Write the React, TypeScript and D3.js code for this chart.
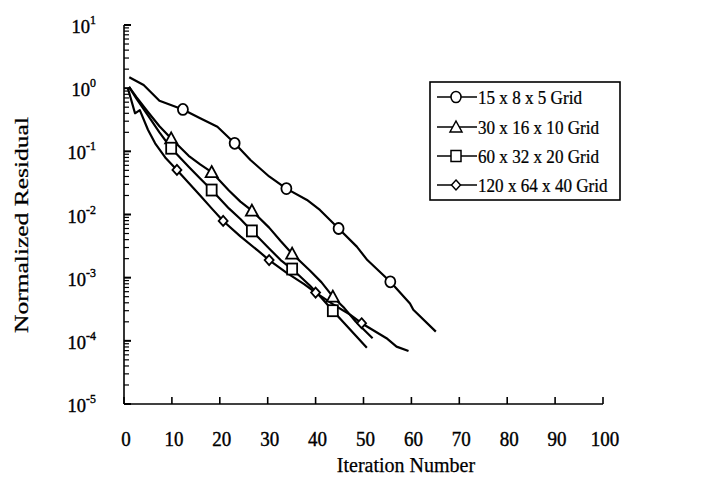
import React, { useEffect, useRef } from 'react';
import * as d3 from 'd3';

// [iteration, normalized residual]
const grid15Line: [number, number][] = [
  [1.1, 1.49], [4.1, 1.12], [7.4, 0.63], [12.3, 0.46], [15.9, 0.333], [19.5, 0.245],
  [23.1, 0.134], [26.4, 0.073], [30.3, 0.04], [33.9, 0.0257], [38.2, 0.017],
  [40.9, 0.0118], [44.8, 0.006], [48.6, 0.0031], [50.8, 0.0019], [55.6, 0.00086],
  [59.7, 0.00039], [60.4, 0.00031], [65.1, 0.00014],
];
const grid15Marks: [number, number][] = [
  [12.3, 0.46], [23.1, 0.134], [33.9, 0.0257], [44.8, 0.006], [55.6, 0.00086],
];

const grid30Line: [number, number][] = [
  [1.05, 1.05], [2.6, 0.72], [5, 0.42], [7.4, 0.25], [9.85, 0.16], [13.5, 0.085],
  [15.9, 0.062], [18.3, 0.047], [21.9, 0.024], [24.3, 0.016], [26.7, 0.0115],
  [30.3, 0.0062], [32.7, 0.0038], [35.1, 0.0024], [38.8, 0.0013], [41.2, 0.00085],
  [43.6, 0.0005], [46, 0.00033], [48.4, 0.0002], [51.9, 0.00011],
];
const grid30Marks: [number, number][] = [
  [9.85, 0.16], [18.3, 0.047], [26.7, 0.0115], [35.1, 0.0024], [43.6, 0.0005],
];

const grid60Line: [number, number][] = [
  [1.05, 1.05], [2.6, 0.68], [5, 0.37], [7.4, 0.2], [9.85, 0.112], [13.5, 0.057],
  [15.9, 0.037], [18.3, 0.0244], [21.9, 0.0125], [24.3, 0.0085], [26.7, 0.0055],
  [30.3, 0.0029], [32.7, 0.0019], [35.1, 0.00137], [38.8, 0.00075], [41.2, 0.00048],
  [43.6, 0.0003], [46, 0.00019], [48.4, 0.00012], [50.7, 0.000078],
];
const grid60Marks: [number, number][] = [
  [9.85, 0.112], [18.3, 0.0244], [26.7, 0.0055], [35.1, 0.00137], [43.6, 0.0003],
];

const grid120Line: [number, number][] = [
  [0.8, 1.0], [2.3, 0.4], [3.3, 0.45], [5, 0.22], [6.5, 0.134], [8.6, 0.08],
  [11.05, 0.0507], [15.9, 0.02], [18.3, 0.0125], [20.7, 0.0079], [24.3, 0.0045],
  [27.9, 0.0027], [30.3, 0.0019], [33.9, 0.0012], [37.6, 0.00079], [40, 0.00058],
  [43.6, 0.00038], [47.2, 0.00026], [49.6, 0.00019], [54.8, 0.00011],
  [56.9, 0.000081], [59.4, 0.000069],
];
const grid120Marks: [number, number][] = [
  [11.05, 0.0507], [20.7, 0.0079], [30.3, 0.0019], [40, 0.00058], [49.6, 0.00019],
];

const seriesNames = ['15 x 8 x 5 Grid', '30 x 16 x 10 Grid', '60 x 32 x 20 Grid', '120 x 64 x 40 Grid'];
const seriesShapes = ['circle', 'triangle', 'square', 'diamond'];
const xTicks = [0, 10, 20, 30, 40, 50, 60, 70, 80, 90, 100];
const yExponents = [1, 0, -1, -2, -3, -4, -5];

const width = 724;
const height = 494;
const font = '"Liberation Serif", "Times New Roman", serif';

function drawMarker(g: any, shape: string, cx: number, cy: number) {
  const s = 5;
  if (shape === 'circle') {
    g.append('ellipse').attr('cx', cx).attr('cy', cy).attr('rx', s).attr('ry', s + 0.5);
  } else if (shape === 'triangle') {
    g.append('path').attr('d', `M${cx},${cy - s - 1}L${cx + s + 1},${cy + s}L${cx - s - 1},${cy + s}Z`);
  } else if (shape === 'square') {
    g.append('rect').attr('x', cx - s).attr('y', cy - s - 0.5).attr('width', 2 * s).attr('height', 2 * s + 1);
  } else {
    g.append('path').attr('d', `M${cx},${cy - s}L${cx + s - 0.5},${cy}L${cx},${cy + s}L${cx - s + 0.5},${cy}Z`);
  }
}

// text squeezed a little horizontally, like the scanned original
function addText(g: any, x: number, y: number, size: number, sx: number, anchor: string, txt: string) {
  return g.append('text')
    .attr('transform', `translate(${x},${y}) scale(${sx},1)`)
    .attr('text-anchor', anchor).attr('font-size', size).text(txt);
}

const Chart = () => {
  const ref = useRef<SVGSVGElement>(null);

  useEffect(() => {
    const svg = d3.select(ref.current);
    svg.selectAll('*').remove();

    const x = d3.scaleLinear().domain([0, 100]).range([124, 603]);
    const y = d3.scaleLog().domain([1e-5, 10]).range([404, 25]);

    // axes
    const axis = svg.append('g').attr('stroke', '#000').attr('stroke-width', 1.6).attr('fill', 'none');
    axis.append('line').attr('x1', x(0)).attr('x2', x(0)).attr('y1', y(10)).attr('y2', y(1e-5));
    axis.append('line').attr('x1', x(0)).attr('x2', x(100)).attr('y1', y(1e-5)).attr('y2', y(1e-5));

    xTicks.forEach(t => {
      axis.append('line').attr('x1', x(t)).attr('x2', x(t)).attr('y1', y(1e-5)).attr('y2', y(1e-5) - 7);
    });

    yExponents.forEach(e => {
      const v = Math.pow(10, e);
      axis.append('line').attr('x1', x(0)).attr('x2', x(0) + 7).attr('y1', y(v)).attr('y2', y(v))
        .attr('stroke-width', 2);
      if (e < 1) {
        for (let k = 2; k <= 9; k++) {
          const m = k * v;
          axis.append('line').attr('x1', x(0)).attr('x2', x(0) + 5).attr('y1', y(m)).attr('y2', y(m))
            .attr('stroke-width', 1.2);
        }
      }
    });

    // tick labels (a thin stroke gives the heavier scanned look)
    const labels = svg.append('g').attr('font-family', font).attr('fill', '#000')
      .attr('stroke', '#000').attr('stroke-width', 0.4);
    xTicks.forEach(t => {
      addText(labels, x(t) + 2, 446, 20, 0.95, 'middle', String(t));
    });
    yExponents.forEach(e => {
      const tx = labels.append('text')
        .attr('transform', `translate(96,${y(Math.pow(10, e)) + 8}) scale(0.95,1)`)
        .attr('text-anchor', 'end').attr('font-size', 19.5);
      tx.append('tspan').text('10');
      tx.append('tspan').attr('dy', -9).attr('font-size', 12.5).text(e);
    });

    const titles = svg.append('g').attr('font-family', font).attr('fill', '#000')
      .attr('stroke', '#000').attr('stroke-width', 0.25);
    addText(titles, 406, 472, 20, 1, 'middle', 'Iteration Number');
    titles.append('text').attr('transform', `translate(28,225) rotate(-90)`)
      .attr('text-anchor', 'middle').attr('font-size', 19)
      .attr('textLength', 216).attr('lengthAdjust', 'spacingAndGlyphs').text('Normalized Residual');

    // series
    const line = d3.line<[number, number]>().x(d => x(d[0])).y(d => y(d[1]));
    const lines = [grid15Line, grid30Line, grid60Line, grid120Line];
    const marks = [grid15Marks, grid30Marks, grid60Marks, grid120Marks];

    const plot = svg.append('g');
    lines.forEach(data => {
      plot.append('path').datum(data).attr('d', line).attr('fill', 'none')
        .attr('stroke', '#000').attr('stroke-width', 2.2).attr('stroke-linejoin', 'round');
    });
    const markG = plot.append('g').attr('fill', '#fff').attr('stroke', '#000').attr('stroke-width', 1.8);
    marks.forEach((data, i) => {
      data.forEach(d => drawMarker(markG, seriesShapes[i], x(d[0]), y(d[1])));
    });

    // legend
    const lg = svg.append('g');
    lg.append('rect').attr('x', 430).attr('y', 82).attr('width', 190).attr('height', 118)
      .attr('fill', '#fff').attr('stroke', '#000').attr('stroke-width', 1.6);
    const rows = [97, 127, 156, 185];
    seriesNames.forEach((name, i) => {
      const ry = rows[i];
      lg.append('line').attr('x1', 437).attr('x2', 477).attr('y1', ry).attr('y2', ry)
        .attr('stroke', '#000').attr('stroke-width', 1.4);
      const mg = lg.append('g').attr('fill', '#fff').attr('stroke', '#000').attr('stroke-width', 1.5);
      drawMarker(mg, seriesShapes[i], 456, ry);
      const tg = lg.append('g').attr('font-family', font).attr('stroke', '#000').attr('stroke-width', 0.25);
      addText(tg, 478, ry + 6.5, 19, 0.9, 'start', name);
    });
  }, []);

  return <svg ref={ref} width={width} height={height} style={{ display: 'block' }} />;
};

export default function App() {
  return (
    <div style={{ margin: -8 }}>
      <Chart />
    </div>
  );
}
